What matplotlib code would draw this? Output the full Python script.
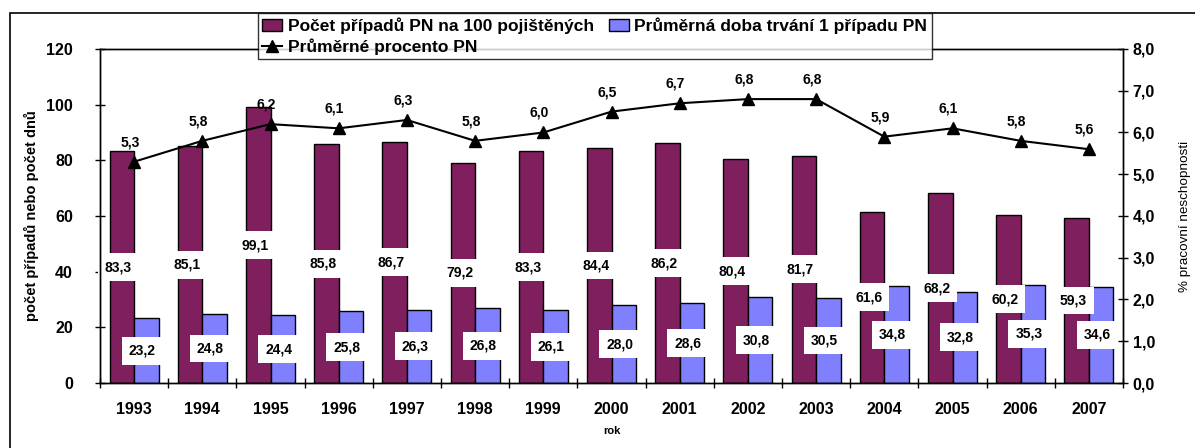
import numpy as np
import matplotlib
matplotlib.use("Agg")
import matplotlib.pyplot as plt
from matplotlib.lines import Line2D
from matplotlib.patches import Patch, Rectangle

plt.rcParams['font.family'] = ['Liberation Sans', 'DejaVu Sans']

# data
years = ['1993', '1994', '1995', '1996', '1997', '1998', '1999', '2000',
         '2001', '2002', '2003', '2004', '2005', '2006', '2007']
pripady = [83.3, 85.1, 99.1, 85.8, 86.7, 79.2, 83.3, 84.4,
           86.2, 80.4, 81.7, 61.6, 68.2, 60.2, 59.3]
doba = [23.2, 24.8, 24.4, 25.8, 26.3, 26.8, 26.1, 28.0,
        28.6, 30.8, 30.5, 34.8, 32.8, 35.3, 34.6]
procento = [5.3, 5.8, 6.2, 6.1, 6.3, 5.8, 6.0, 6.5,
            6.7, 6.8, 6.8, 5.9, 6.1, 5.8, 5.6]

purple = '#7F1F5E'
blue = '#8080FF'

def fmt(v):
    return f'{v:.1f}'.replace('.', ',')

W, H = 1195, 448
fig = plt.figure(figsize=(W / 100, H / 100), dpi=100)
ax = fig.add_axes([100 / W, 1 - 383 / H, (1123 - 100) / W, (383 - 49) / H])
ax2 = ax.twinx()

x = np.arange(len(years))
bw = 0.36
ax.bar(x - bw / 2, pripady, bw, color=purple, edgecolor='black', linewidth=1, zorder=2)
ax.bar(x + bw / 2, doba, bw, color=blue, edgecolor='black', linewidth=1, zorder=2)

# value labels sit in the middle of each bar, on a white box
box = dict(facecolor='white', edgecolor='none', boxstyle='square,pad=0.5')
for i in range(len(years)):
    ax.text(x[i] - bw / 2 - 0.05, pripady[i] / 2, fmt(pripady[i]), ha='center', va='center',
            fontsize=10, fontweight='bold', bbox=box, zorder=2.4)
    ax.text(x[i] + bw / 2 - 0.06, doba[i] / 2, fmt(doba[i]), ha='center', va='center',
            fontsize=10, fontweight='bold', bbox=box, zorder=2.4)

ax2.plot(x, procento, color='black', lw=1.5, marker='^', markersize=9, zorder=4)
for i in range(len(years)):
    ax2.annotate(fmt(procento[i]), (x[i], procento[i]), xytext=(-3, 9),
                 textcoords='offset points', ha='center', va='bottom',
                 fontsize=10, fontweight='bold')

ax.set_xlim(-0.5, len(years) - 0.5)
ax.set_ylim(0, 120)
ax2.set_ylim(0, 8)

ax.set_xticks(x)
ax.set_xticklabels(years, fontsize=11.5, fontweight='bold')
ax.set_xticks(np.arange(-0.5, len(years)), minor=True)
ax.tick_params(axis='x', which='major', length=0, pad=13.5)
ax.tick_params(axis='x', which='minor', direction='inout', length=7, width=1)

ax.set_yticks(np.arange(0, 121, 20))
ax.set_yticklabels([str(v) for v in range(0, 121, 20)], fontsize=11.5, fontweight='bold')
ax.tick_params(axis='y', direction='inout', length=7, width=1, pad=16)

ax2.set_yticks(np.arange(0, 9, 1))
ax2.set_yticklabels([fmt(v) for v in range(0, 9)], fontsize=11.5, fontweight='bold')
ax2.tick_params(axis='y', direction='inout', length=7, width=1, pad=3.5)

ax.set_xlabel('rok', fontsize=8, fontweight='bold', labelpad=7)
ax.set_ylabel('počet případů nebo počet dnů', fontsize=10.5, fontweight='bold', labelpad=5)
ax2.set_ylabel('% pracovní neschopnosti', fontsize=9.7, labelpad=17)

for a in (ax, ax2):
    for s in a.spines.values():
        s.set_linewidth(1)

handles = [Patch(facecolor=purple, edgecolor='black', linewidth=1),
           Line2D([0], [0], color='black', lw=1.5, marker='^', markersize=9),
           Patch(facecolor=blue, edgecolor='black', linewidth=1)]
labels = ['Počet případů PN na 100 pojištěných', 'Průměrné procento PN',
          'Průměrná doba trvání 1 případu PN']
leg = fig.legend(handles, labels, ncol=2, loc='upper left',
                 bbox_to_anchor=(258 / W, 1 - 13 / H), frameon=True, fancybox=False,
                 prop={'size': 12.5, 'weight': 'bold'}, handlelength=1.15,
                 handletextpad=0.3, columnspacing=0.9, labelspacing=0.25,
                 borderpad=0.25, borderaxespad=0)
leg.get_frame().set_edgecolor('black')
leg.get_frame().set_linewidth(1)
leg.set_zorder(10)

# outer frame of the chart area
fig.add_artist(Rectangle((10 / W, -0.2), 1.2, 1.2 - 13 / H, transform=fig.transFigure,
                         fill=False, edgecolor='black', linewidth=1.2, zorder=0))

fig.savefig('out.png', dpi=100)
